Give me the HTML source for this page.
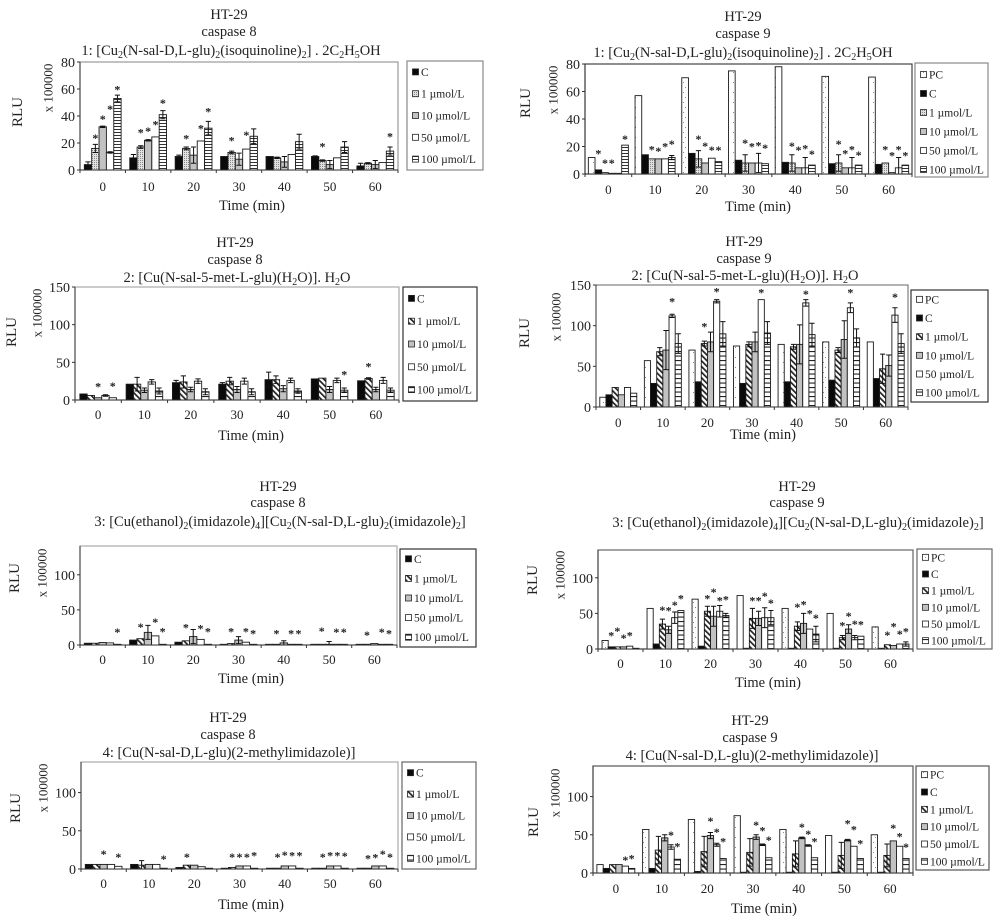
<!DOCTYPE html>
<html lang="en">
<head>
<meta charset="utf-8">
<title>HT-29 caspase 8 and caspase 9 activity</title>
<style>
html,body{margin:0;padding:0;background:#fff;}
svg{display:block;}
text{font-family:"Liberation Serif",serif;fill:#222;}
</style>
</head>
<body>
<svg id="figure" xmlns="http://www.w3.org/2000/svg" width="1004" height="923" viewBox="0 0 1004 923">
<defs>
<pattern id="pat-pc" width="10" height="10" patternUnits="userSpaceOnUse"><rect width="10" height="10" fill="#fff"/><rect x="3" y="2" width="1" height="1" fill="#888"/><rect x="5" y="7" width="1" height="1" fill="#888"/></pattern>
<pattern id="pat-dots" width="2" height="2" patternUnits="userSpaceOnUse"><rect width="2" height="2" fill="#e2e2e2"/><rect width="1" height="1" fill="#888"/></pattern>
<pattern id="pat-hatch" width="4" height="4" patternUnits="userSpaceOnUse" patternTransform="rotate(-45)"><rect width="4" height="4" fill="#fff"/><rect width="1.7" height="4" fill="#222"/></pattern>
<pattern id="pat-hdense" width="3" height="3" patternUnits="userSpaceOnUse"><rect width="3" height="3" fill="#fff"/><rect width="3" height="1" fill="#333"/></pattern>
<pattern id="pat-hlines" width="4.5" height="4.5" patternUnits="userSpaceOnUse"><rect width="4.5" height="4.5" fill="#fff"/><rect width="4.5" height="1.1" fill="#222"/></pattern>
</defs>
<rect width="1004" height="923" fill="#fff"/>
</svg>
<script>
const timeLabels = ['0','10','20','30','40','50','60'];
const seriesFive = ['C','1 µmol/L','10 µmol/L','50 µmol/L','100 µmol/L'];
const seriesSix = ['PC','C','1 µmol/L','10 µmol/L','50 µmol/L','100 µmol/L'];
const ticksEighty = [0,20,40,60,80];
const ticksOneFifty = [0,50,100,150];
const ticksHundred = [0,50,100];

const p1Values = [[4,9,10,10,10,10,3],[16,17,16,13,9,7,5],[32,22,11,8,6,4,4],[13,24.5,21.5,15.5,11.5,9,5.5],[53,41,31,25,21,17,14]];
const p1Errors = [[2,2.5,1,0,0,0.5,2],[3,1,1,1,0.5,0.5,0.5],[0.5,0.5,6,4.5,4,3,3],[0.5,0,0,0,0,0,0],[2.5,3,5,5.5,5.5,4,3]];
const p1Stars = [[0,0,0,0,0,0,0],[25,29,24.5,23,0,18.5,0],[39,30,0,0,0,0,0],[46.5,35,32,27,0,0,0],[61,51,44.5,0,0,0,26]];

const p2Values = [[12,57,70,75,78,71,70.5],[3,14,15,10,8.5,7.5,7],[1,11,11,8,8,8,8],[0.5,11,8,8,4.5,4.5,1],[0.5,11,11.5,8,4.5,4.5,4.5],[21,12,9,7.5,6.5,6.5,6.5]];
const p2Errors = [[0,0,0,0,0,0,0],[0,0,0,0,0,0,0],[0,0,6,6,6,6,0],[0,0,0,0,0,0,0],[0,0,0,7,7.5,7.5,7.5],[0,1.5,0,0,0,0,0]];
const p2Stars = [[0,0,0,0,0,0,0],[16,0,0,0,0,0,0],[9,19,26.7,23.7,21.5,23,19],[9,18,21.5,21,18.7,16,14.8],[0,21,18.7,22,19.6,19,19],[26.7,23,18.7,20,15.8,15,14.5]];

const p3Values = [[8,21,23,21,27,28,25.5],[6,21,24,25,27,29,28.5],[3,13,14,14,15,14,14],[6,24,25,25,26,26,26],[3,12,11,11,12,13,13]];
const p3Errors = [[0,0,3,2,10,0,0],[0,9,8,5,5,0,1],[0,3,3,4,4,4,3],[1,3,3,4,3,3,4],[0,4,4,4,3,3,3]];
const p3Stars = [[0,0,0,0,0,0,0],[0,0,0,0,0,0,46.5],[20,0,0,0,0,0,0],[0,0,0,0,0,0,0],[21,0,0,0,0,36,0]];

const p4Values = [[12,57,70,75,77,80,80],[15,29,31,29,31,33,35],[24,68,78,77,74,70,47],[15,70,80,80,77,83,51],[24,112,130,132,128,122,113],[17,78,90,91,89,85,78]];
const p4Errors = [[0,0,0,0,0,0,0],[0,0,0,0,0,0,0],[0,5,3,3,3,3,18],[0,24,12,12,24,23,13],[0,2,2,0,4,6,9],[0,12,15,14,14,11,12]];
const p4Stars = [[0,0,0,0,0,0,0],[0,0,0,0,0,0,0],[0,0,101,0,0,0,0],[0,0,0,0,0,0,0],[0,131.6,144,143,140.6,143,137],[0,0,0,0,0,0,0]];

const p5Values = [[2.5,7,4,1,1,1,1],[2.5,9,6,2,1,1,1],[3.5,18,12,7,3,1,2],[3,13,8,4,1,1,1],[1,1,1,1,1,1,1]];
const p5Errors = [[0,0,0,0,0,0,0],[0,0,0,0,0,0,0],[0,10,10,5,3,4,0],[0,0,0,0,0,0,0],[0,0,0,0,0,0,0]];
const p5Stars = [[0,0,0,0,0,0,0],[0,28,27,21.5,19,22.4,16.7],[0,0,0,0,0,0,0],[0,35,25.7,21.5,19,20.5,20.5],[20.5,21.5,21.5,19,19,20.5,19]];

const p6Values = [[12,57,70,75,57,50,31],[3,7,4,1,1,1,1],[3,35,53,43,32,16,6],[3,27,46,43,36,28,5],[4,44,53,44,28,16,7],[1,54,47,44,21,18,7]];
const p6Errors = [[0,0,0,0,0,0,0],[0,0,0,0,0,0,0],[0,7,7,14,6,3,0],[0,5,14,10,14,6,0],[0,8,8,14,0,3,0],[0,0,3,10,11,0,3]];
const p6Stars = [[0,0,0,0,0,0,0],[21,0,0,0,0,0,0],[27.6,57,73,70.6,61,35,22],[18,56,82,70.6,65,48.6,33.6],[21,64,70.6,77,52,37,23],[0,73,71.5,67,46,36.5,26.6]];

const p7Values = [[6,6,2,1,1,1,1],[6,5,5,2,1,1,1],[6,6,5,4,4,4,4],[6,6,3,4,4,4,4],[3.5,1,1,1,1,1,1]];
const p7Errors = [[0,0,0,0,0,0,0],[0,6,0,0,0,0,0],[0,0,0,0,0,0,0],[0,0,0,0,0,0,0],[0,0,0,0,0,0,0]];
const p7Stars = [[0,0,0,0,0,0,0],[0,0,18,17.5,17.5,18,16],[21.4,0,0,18,20.5,20,17],[0,0,0,18,19.6,20,21.4],[18,15,0,19.6,19.6,19,18]];

const p8Values = [[11,57,70,75,57,49,50],[6,6,2,1,1,1,1],[11,30,28,27,25,23,23],[11,46,49,47,46,43,42],[9,34,37,37,36,35,35],[6,18,19,20,20,19,19]];
const p8Errors = [[0,0,0,0,0,0,0],[0,0,0,0,0,0,0],[0,18,20,18,17,17,15],[0,4,4,3,1,1,0],[0,3,2,1,1,0,0],[0,0,0,0,0,0,0]];
const p8Stars = [[0,0,0,0,0,0,0],[0,0,0,0,0,0,0],[0,0,0,0,0,0,0],[0,0,70,65,62,67,61],[19,52,56,58,53,59,50],[21,36.5,43,45,43,41,36]];

const titleOne = '1: [Cu_2(N-sal-D,L-glu)_2(isoquinoline)_2] . 2C_2H_5OH';
const titleTwo = '2: [Cu(N-sal-5-met-L-glu)(H_2O)]. H_2O';
const titleThree = '3: [Cu(ethanol)_2(imidazole)_4][Cu_2(N-sal-D,L-glu)_2(imidazole)_2]';
const titleFour = '4: [Cu(N-sal-D,L-glu)(2-methylimidazole)]';

const NS = 'http://www.w3.org/2000/svg';
const root = document.getElementById('figure');

function make(parent, tag, attrs, content) {
  const el = document.createElementNS(NS, tag);
  for (const k in attrs) el.setAttribute(k, attrs[k]);
  if (content !== undefined) el.textContent = content;
  parent.appendChild(el);
  return el;
}

function fillFor(kind) {
  if (kind === 'black') return '#0a0a0a';
  if (kind === 'gray') return '#c2c2c2';
  if (kind === 'white') return '#fff';
  return 'url(#pat-' + kind + ')';
}

function writeFormula(el, formula) {
  const parts = formula.split(/_(\d)/);
  let lowered = false;
  parts.forEach(function (part, i) {
    if (i % 2 === 1) {
      make(el, 'tspan', {dy: 3, 'font-size': 10}, part);
      lowered = true;
    } else if (part) {
      const attrs = lowered ? {dy: -3} : {};
      make(el, 'tspan', attrs, part);
      lowered = false;
    }
  });
}

function drawPanel(c, values, errors, stars, names, kinds, ticks) {
  const g = make(root, 'g', {});
  
  

  const sy = function (v) { return c.b - v / c.ymax * (c.b - c.t); };
  const gw = (c.r - c.l) / timeLabels.length;
  const bw = gw * c.frac / names.length;
  const pad = (gw - bw * names.length) / 2;
  const sx = function (group, s) { return c.l + group * gw + pad + s * bw; };

  // titles
  const t1 = make(g, 'text', {x: c.tx, y: c.ty[0], 'text-anchor': 'middle', 'font-size': 14.5}, 'HT-29');
  
  
  const t2 = make(g, 'text', {x: c.tx, y: c.ty[1], 'text-anchor': 'middle', 'font-size': 14.5}, c.enzyme);
  
  
  const t3 = make(g, 'text', {x: c.tx3, y: c.ty[2], 'text-anchor': 'middle', 'font-size': 14.5});
  
  
  writeFormula(t3, c.formula);

  // plot frame
  const frame = make(g, 'rect', {x: c.l, y: c.t, width: c.r - c.l, height: c.b - c.t, fill: 'none', stroke: c.frame, 'stroke-width': c.frameW});
  
  

  // bars
  names.forEach(function (name, s) {
    values[s].forEach(function (v, i) {
      const bar = make(g, 'rect', {x: sx(i, s), y: sy(v), width: bw, height: c.b - sy(v), fill: fillFor(kinds[s]), stroke: '#1a1a1a', 'stroke-width': 0.9});
      
      
    });
  });

  // error bars
  names.forEach(function (name, s) {
    errors[s].forEach(function (e, i) {
      if (!e) return;
      const cx = sx(i, s) + bw / 2;
      const top = sy(values[s][i] + e);
      const bottom = sy(Math.max(0, values[s][i] - e));
      const cap = 2.6;
      const d = 'M' + cx + ' ' + top + 'V' + bottom + 'M' + (cx - cap) + ' ' + top + 'H' + (cx + cap) + 'M' + (cx - cap) + ' ' + bottom + 'H' + (cx + cap);
      const err = make(g, 'path', {d: d, fill: 'none', stroke: '#111', 'stroke-width': 1});
      
      
    });
  });

  // significance stars
  names.forEach(function (name, s) {
    stars[s].forEach(function (v, i) {
      if (!v) return;
      const star = make(g, 'text', {x: sx(i, s) + bw / 2, y: sy(v) + 5.6, 'text-anchor': 'middle', 'font-size': 12, 'font-weight': 'bold'}, '*');
      
      
    });
  });

  // y axis
  const yAxis = make(g, 'line', {x1: c.l, x2: c.l, y1: c.t, y2: c.b, stroke: '#333', 'stroke-width': 1});
  
  
  ticks.forEach(function (v) {
    const tick = make(g, 'line', {x1: c.l - 3, x2: c.l, y1: sy(v), y2: sy(v), stroke: '#333', 'stroke-width': 1});
    
    
    const label = make(g, 'text', {x: c.l - 5, y: sy(v) + 5, 'text-anchor': 'end', 'font-size': 14}, String(v));
    
    
  });

  // x axis
  const xAxis = make(g, 'line', {x1: c.l, x2: c.r, y1: c.b, y2: c.b, stroke: '#333', 'stroke-width': 1});
  
  
  for (let i = 0; i <= timeLabels.length; i++) {
    const tick = make(g, 'line', {x1: c.l + i * gw, x2: c.l + i * gw, y1: c.b, y2: c.b + 3, stroke: '#333', 'stroke-width': 1});
    
    
  }
  timeLabels.forEach(function (lab, i) {
    const label = make(g, 'text', {x: c.l + (i + 0.5) * gw, y: c.xt, 'text-anchor': 'middle', 'font-size': 13}, lab);
    
    
  });

  // axis titles
  const xTitle = make(g, 'text', {x: c.tc[0], y: c.tc[1], 'text-anchor': 'middle', 'font-size': 14.5}, 'Time (min)');
  
  
  const yTitle = make(g, 'text', {x: c.rlu[0], y: c.rlu[1], 'text-anchor': 'middle', 'dominant-baseline': 'central', 'font-size': 15, transform: 'rotate(-90 ' + c.rlu[0] + ' ' + c.rlu[1] + ')'}, 'RLU');
  
  
  const unit = make(g, 'text', {x: c.unit[0], y: c.unit[1], 'text-anchor': 'middle', 'dominant-baseline': 'central', 'font-size': 13, transform: 'rotate(-90 ' + c.unit[0] + ' ' + c.unit[1] + ')'}, 'x 100000');
  
  

  // legend
  const lg = make(g, 'g', {});
  
  
  const box = make(lg, 'rect', {x: c.lg[0], y: c.lg[1], width: c.lg[2] - c.lg[0], height: c.lg[3] - c.lg[1], fill: '#fff', stroke: c.lgStroke, 'stroke-width': 1.2});
  
  
  const step = (c.lg[3] - c.lg[1]) / names.length;
  names.forEach(function (name, s) {
    const cy = c.lg[1] + (s + 0.5) * step + c.lgShift;
    const swatch = make(lg, 'rect', {x: c.lg[0] + 5.5, y: cy - 3, width: 6, height: 6, fill: fillFor(kinds[s]), stroke: '#222', 'stroke-width': 0.8});
    
    
    const txt = make(lg, 'text', {x: c.lg[0] + 14, y: cy + 4, 'font-size': 11.5}, name);
    
    
  });
}

const kindsA5 = ['black','dots','gray','white','hdense'];
const kindsA6 = ['pc','black','dots','gray','white','hdense'];
const kindsB5 = ['black','hatch','gray','white','hlines'];
const kindsB6 = ['pc','black','hatch','gray','white','hlines'];

drawPanel({l:80,r:398,t:62,b:170,ymax:80,frac:0.81,enzyme:'caspase 8',formula:titleOne,tx:229,tx3:231,ty:[19,36,55],frame:'#999',frameW:1.2,xt:191,tc:[252,210],rlu:[18,112],unit:[48,88],lg:[407,61,483,170],lgStroke:'#888',lgShift:0}, p1Values, p1Errors, p1Stars, seriesFive, kindsA5, ticksEighty);
drawPanel({l:585,r:912,t:64,b:174,ymax:80,frac:0.857,enzyme:'caspase 9',formula:titleOne,tx:743,tx3:743,ty:[21,38,57],frame:'#444',frameW:1.2,xt:194,tc:[758,211],rlu:[526,103],unit:[553,90],lg:[915,63,988,177],lgStroke:'#888',lgShift:2}, p2Values, p2Errors, p2Stars, seriesSix, kindsA6, ticksEighty);
drawPanel({l:75,r:399,t:287,b:400,ymax:150,frac:0.79,enzyme:'caspase 8',formula:titleTwo,tx:235,tx3:237,ty:[247,264,282],frame:'#aaa',frameW:1.2,xt:419,tc:[251,440],rlu:[12,332],unit:[37,313],lg:[403,287,477,401],lgStroke:'#333',lgShift:0}, p3Values, p3Errors, p3Stars, seriesFive, kindsB5, ticksOneFifty);
drawPanel({l:596,r:908,t:285,b:407,ymax:150,frac:0.83,enzyme:'caspase 9',formula:titleTwo,tx:744,tx3:745,ty:[246,263,280],frame:'#666',frameW:1,xt:427,tc:[763,439],rlu:[525,333],unit:[556,317],lg:[911,290,988,402],lgStroke:'#333',lgShift:0}, p4Values, p4Errors, p4Stars, seriesSix, kindsB6, ticksOneFifty);
drawPanel({l:80,r:397,t:546,b:645,ymax:141,frac:0.81,enzyme:'caspase 8',formula:titleThree,tx:278,tx3:280,ty:[491,507,526],frame:'#aaa',frameW:1.2,xt:664,tc:[251,683],rlu:[15,578],unit:[42,573],lg:[400,549,476,647],lgStroke:'#333',lgShift:0}, p5Values, p5Errors, p5Stars, seriesFive, kindsB5, ticksHundred);
drawPanel({l:598,r:913,t:550,b:649,ymax:139,frac:0.82,enzyme:'caspase 9',formula:titleThree,tx:797,tx3:798,ty:[491,507,527],frame:'#666',frameW:1.2,xt:668,tc:[768,687],rlu:[533,580],unit:[560,575],lg:[917,549,992,649],lgStroke:'#666',lgShift:0}, p6Values, p6Errors, p6Stars, seriesSix, kindsB6, ticksHundred);
drawPanel({l:81,r:398,t:762,b:869,ymax:140,frac:0.81,enzyme:'caspase 8',formula:titleFour,tx:228,tx3:229,ty:[722,739,757],frame:'#aaa',frameW:1.2,xt:888,tc:[251,909],rlu:[16,808],unit:[43,788],lg:[402,762,476,869],lgStroke:'#666',lgShift:0}, p7Values, p7Errors, p7Stars, seriesFive, kindsB5, ticksHundred);
drawPanel({l:593,r:913,t:766,b:873,ymax:140,frac:0.83,enzyme:'caspase 9',formula:titleFour,tx:750,tx3:752,ty:[725,742,760],frame:'#555',frameW:1.2,xt:893,tc:[764,913],rlu:[534,822],unit:[555,793],lg:[916,766,989,870],lgStroke:'#555',lgShift:0}, p8Values, p8Errors, p8Stars, seriesSix, kindsB6, ticksHundred);
</script>
</body>
</html>
